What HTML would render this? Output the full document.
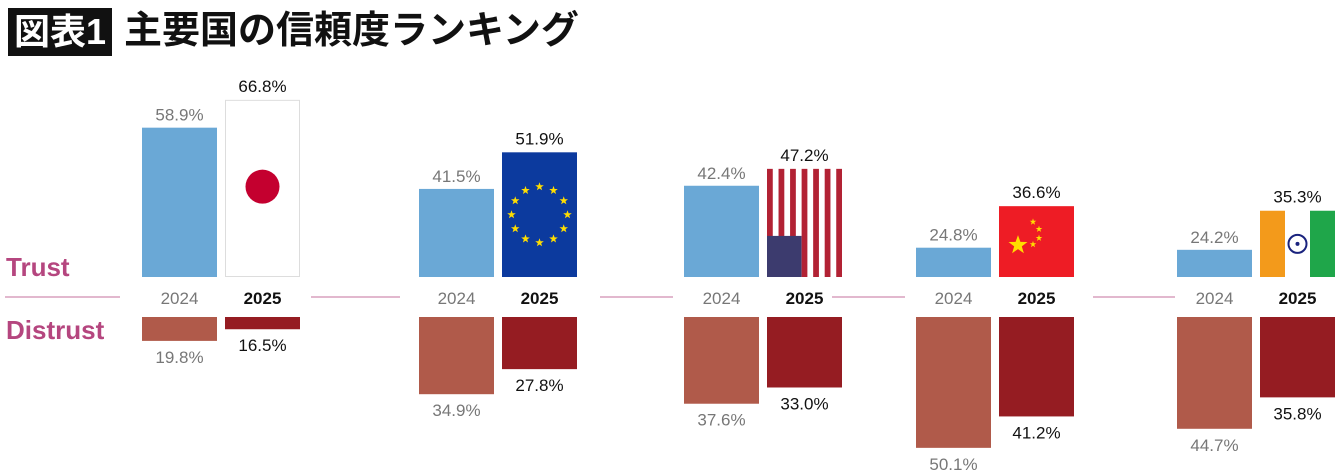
<!DOCTYPE html>
<html><head><meta charset="utf-8"><style>
body{margin:0;width:1340px;height:474px;background:#fff;overflow:hidden;font-family:"Liberation Sans","Noto Sans CJK JP",sans-serif}
#title-box{position:absolute;left:8px;top:8px;width:104px;height:48px;background:#111;color:#fff;font-weight:bold;font-size:36px;line-height:48px;text-align:center;font-family:"Liberation Sans","Noto Sans CJK JP",sans-serif}
#title{position:absolute;left:124px;top:6px;font-size:38px;font-weight:bold;color:#111;line-height:50px}
</style></head><body>
<div id="title-box">図表1</div>
<div id="title">主要国の信頼度ランキング</div>
<svg id="chart" width="1340" height="474" style="position:absolute;left:0;top:0"></svg>
<script>
const countries=["japan","eu","us","china","india"];
const trust2024=[58.9,41.5,42.4,24.8,24.2];
const trust2025=[66.8,51.9,47.2,36.6,35.3];
const distrust2024=[19.8,34.9,37.6,50.1,44.7];
const distrust2025=[16.5,27.8,33.0,41.2,35.8];
const years=["2024","2025"];
const groupX=[142,419,684,916,1177];
const ns="http://www.w3.org/2000/svg";
const svg=document.getElementById('chart');
const BW=75,GAP=8,TB=277,DT=317;
function th(v){return 3.52*v-58;}
function dh(v){return 3.53*v-46;}
function el(t,a,p){const e=document.createElementNS(ns,t);for(const k in a)e.setAttribute(k,a[k]);(p||svg).appendChild(e);return e;}
function txt(x,y,s,c,sz,w,anchor){const t=el('text',{x:x,y:y,fill:c,'font-size':sz,'font-weight':w||'normal','text-anchor':anchor||'middle','font-family':'"Liberation Sans",sans-serif'});t.textContent=s;return t;}
// separator segments
[[5,120],[311,400],[600,673],[832,905],[1093,1175]].forEach(s=>{const l=el('line',{x1:s[0],x2:s[1],y1:297,y2:297,stroke:'#d9a0bd','stroke-width':1.5});

});
let t=txt(6,276,'Trust','#b5467f',26,'bold','start');

t=txt(6,339,'Distrust','#b5467f',26,'bold','start');

function star(g,cx,cy,r,fill){let p=[];for(let i=0;i<10;i++){const a=-Math.PI/2+i*Math.PI/5,rr=i%2?r*0.4:r;p.push((cx+rr*Math.cos(a)).toFixed(1)+','+(cy+rr*Math.sin(a)).toFixed(1));}el('polygon',{points:p.join(' '),fill:fill},g);}
function flag(i,x,y,w,h){const g=el('g',{});


const c=countries[i];
if(c==='japan'){el('rect',{x:x+0.5,y:y+0.5,width:w-1,height:h-1,fill:'#fff',stroke:'#ddd'},g);el('circle',{cx:x+w/2,cy:y+h*0.49,r:17,fill:'#c4002f'},g);}
else if(c==='eu'){el('rect',{x:x,y:y,width:w,height:h,fill:'#0c3a9e'},g);for(let k=0;k<12;k++){const a=k*Math.PI/6;star(g,x+w/2+28*Math.cos(a),y+h/2+28*Math.sin(a),4.5,'#ffdd00');}}
else if(c==='us'){el('rect',{x:x,y:y,width:w,height:h,fill:'#fff'},g);const n=13,sw=w/n;for(let k=0;k<n;k+=2)el('rect',{x:x+k*sw,y:y,width:sw,height:h,fill:'#b22234'},g);el('rect',{x:x,y:y+h*0.62,width:w*0.46,height:h*0.38,fill:'#3c3b6e'},g);}
else if(c==='china'){el('rect',{x:x,y:y,width:w,height:h,fill:'#ee1c25'},g);star(g,x+19,y+h*0.55,10,'#ffde00');[[34,-14],[40,-6],[40,4],[34,11]].forEach(p=>star(g,x+p[0],y+h*0.4+p[1]*0.9,3.5,'#ffde00'));}
else{const s=w/3;el('rect',{x:x,y:y,width:s,height:h,fill:'#f39a1b'},g);el('rect',{x:x+s,y:y,width:s,height:h,fill:'#fff'},g);el('rect',{x:x+2*s,y:y,width:s,height:h,fill:'#1fa64a'},g);el('circle',{cx:x+w/2,cy:y+h/2,r:9,fill:'none',stroke:'#1a237e','stroke-width':2},g);el('circle',{cx:x+w/2,cy:y+h/2,r:2,fill:'#1a237e'},g);}
}
countries.forEach((c,i)=>{
 const x0=groupX[i],x1=x0+BW+GAP;
 let h=th(trust2024[i]);
 let r=el('rect',{x:x0,y:TB-h,width:BW,height:h,fill:'#6aa8d6'});
 
 txt(x0+BW/2,TB-h-7,trust2024[i].toFixed(1)+'%','#777',17);
 h=th(trust2025[i]);flag(i,x1,TB-h,BW,h);
 txt(x1+BW/2,TB-h-8,trust2025[i].toFixed(1)+'%','#111',17);
 let y=txt(x0+BW/2,304,years[0],'#777',17);
 y=txt(x1+BW/2,304,years[1],'#111',17,'bold');
 h=dh(distrust2024[i]);
 r=el('rect',{x:x0,y:DT,width:BW,height:h,fill:'#b05a4a'});
 
 txt(x0+BW/2,DT+h+22,distrust2024[i].toFixed(1)+'%','#777',17);
 h=dh(distrust2025[i]);
 r=el('rect',{x:x1,y:DT,width:BW,height:h,fill:'#951c22'});
 
 txt(x1+BW/2,DT+h+22,distrust2025[i].toFixed(1)+'%','#111',17);
});
</script>
</body></html>
